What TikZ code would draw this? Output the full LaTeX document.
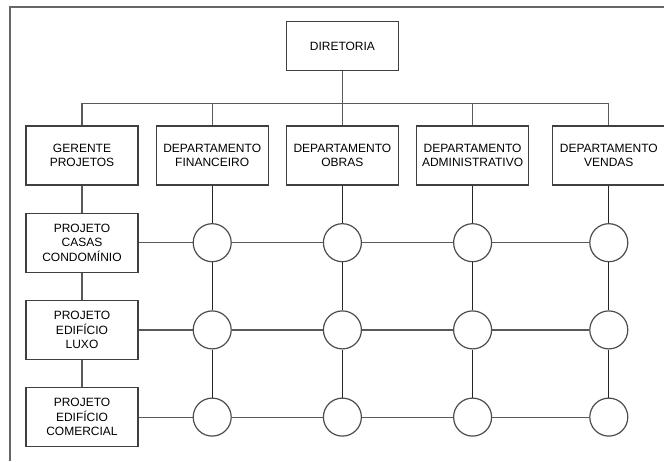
\documentclass[tikz,border=0pt]{standalone}
\usepackage{fontspec}
\setsansfont{Liberation Sans}
\usetikzlibrary{positioning}

\tikzset{
    box/.style={draw=black!75, line width=1.2pt, minimum width=112pt, minimum height=59pt, align=center, inner sep=1pt},
    hub/.style={draw=black!70, line width=1.2pt, circle, minimum size=38pt, inner sep=0pt},
    link/.style={draw=black!65, line width=1.2pt}
}

\begin{document}
\begin{tikzpicture}[x=1pt, y=-1pt, font=\sffamily\fontsize{12}{14.3}\selectfont]
        \useasboundingbox (0,0) rectangle (664,461);
        % frame
        \draw[black!60, line width=1.2pt] (10,461) -- (10,7) -- (664,7);

        \node[box] (gerente) at (82,155.5) {GERENTE\\PROJETOS};
        \node[box, right=17pt of gerente] (fin) {DEPARTAMENTO\\FINANCEIRO};
        \node[box, right=17pt of fin] (obras) {DEPARTAMENTO\\OBRAS};
        \node[box, right=17pt of obras] (adm) {DEPARTAMENTO\\ADMINISTRATIVO};
        \node[box, right=23pt of adm] (vendas) {DEPARTAMENTO\\VENDAS};

        \node[box, minimum height=49pt, above=54pt of obras] (diretoria) {DIRETORIA};

        \node[box, below=27pt of gerente] (casas) {PROJETO\\CASAS\\CONDOMÍNIO};
        \node[box, below=27pt of casas] (luxo) {PROJETO\\EDIFÍCIO\\LUXO};
        \node[box, below=27pt of luxo] (comercial) {PROJETO\\EDIFÍCIO\\COMERCIAL};

        % tree
        \draw[link] (diretoria) -- (obras);
        \draw[link] (gerente.north) -- ++(0,-22) coordinate (bus) -| (vendas.north);
        \draw[link] (fin.north) -- (fin.north |- bus);
        \draw[link] (adm.north) -- (adm.north |- bus);
        \draw[link] (gerente) -- (casas) -- (luxo) -- (comercial);

        % matrix
        \foreach \dep in {fin,obras,adm,vendas}
            \foreach \proj in {casas,luxo,comercial}
                \node[hub] (\dep-\proj) at (\dep |- \proj) {};

        \foreach \proj in {casas,luxo,comercial}
            \draw[link] (\proj) -- (fin-\proj) -- (obras-\proj) -- (adm-\proj) -- (vendas-\proj);
        \foreach \dep in {fin,obras,adm,vendas}
            \draw[link, black!85] (\dep) -- (\dep-casas) -- (\dep-luxo) -- (\dep-comercial);
    \end{tikzpicture}
\end{document}
